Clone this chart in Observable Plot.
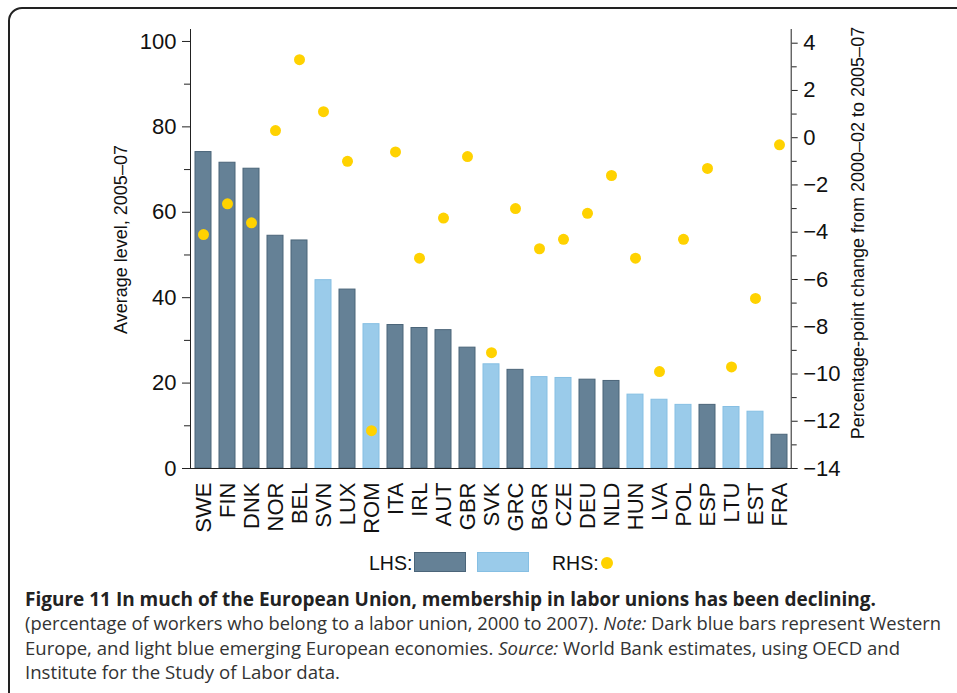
<!DOCTYPE html>
<html><head><meta charset="utf-8">
<script src="https://cdn.jsdelivr.net/npm/d3@7"></script>
<script src="https://cdn.jsdelivr.net/npm/@observablehq/plot@0.6"></script>
<style>
html,body{margin:0;padding:0;background:#fff;width:957px;height:693px;overflow:hidden;position:relative;}
#frame{position:absolute;left:7.5px;top:6.5px;width:1000px;height:800px;border:2px solid #222;border-radius:14px;box-sizing:border-box;}
#chart{position:absolute;left:0;top:0;}
.lg{position:absolute;font-family:"Liberation Sans",Arial,sans-serif;font-size:19.5px;color:#111;line-height:20px;white-space:nowrap;}
.sw{position:absolute;box-sizing:border-box;border:1px solid;}
.cap{position:absolute;left:24.5px;font-family:"Open Sans",sans-serif;font-size:19px;line-height:24.5px;white-space:nowrap;color:#333;transform-origin:0 0;display:inline-block;}
</style></head><body>
<div id="frame"></div>
<div id="chart"></div>
<div class="lg" style="left:369px;top:552.7px">LHS:</div>
<div class="sw" style="left:414px;top:552px;width:52px;height:20px;background:#658196;border-color:#4b6579"></div>
<div class="sw" style="left:477px;top:552px;width:52px;height:20px;background:#9acbea;border-color:#86bfe3"></div>
<div class="lg" style="left:552px;top:552.7px">RHS:</div>
<div style="position:absolute;left:601px;top:556.5px;width:12px;height:12px;border-radius:50%;background:#ffd200"></div>
<div class="cap" id="c1" style="top:586.5px;font-weight:bold;color:#222">Figure 11 In much of the European Union, membership in labor unions has been declining.</div>
<div class="cap" id="c2" style="top:611px">(percentage of workers who belong to a labor union, 2000 to 2007). <i>Note:</i> Dark blue bars represent Western</div>
<div class="cap" id="c3" style="top:635.5px">Europe, and light blue emerging European economies. <i>Source:</i> World Bank estimates, using OECD and</div>
<div class="cap" id="c4" style="top:660px">Institute for the Study of Labor data.</div>
<script>
const countries = ["SWE","FIN","DNK","NOR","BEL","SVN","LUX","ROM","ITA","IRL","AUT","GBR","SVK","GRC","BGR","CZE","DEU","NLD","HUN","LVA","POL","ESP","LTU","EST","FRA"];
const levels = [74.1,71.6,70.2,54.5,53.4,44.1,41.9,33.8,33.6,32.9,32.4,28.3,24.4,23.1,21.4,21.2,20.8,20.5,17.3,16.1,14.9,14.9,14.4,13.3,7.9];
const changes = [-4.1,-2.8,-3.6,0.3,3.3,1.1,-1.0,-12.4,-0.6,-5.1,-3.4,-0.8,-9.1,-3.0,-4.7,-4.3,-3.2,-1.6,-5.1,-9.9,-4.3,-1.3,-9.7,-6.8,-0.3];
const emerging = ["SVN","ROM","SVK","BGR","CZE","HUN","LVA","POL","LTU","EST"];
const leftTicks = [0,20,40,60,80,100];
const leftMinor = [10,30,50,70,90];
const rightTicks = [-14,-12,-10,-8,-6,-4,-2,0,2,4];
const rightMinor = [-13,-11,-9,-7,-5,-3,-1,1,3];
const leftTitle = "Average level, 2005\u201307";
const rightTitle = "Percentage-point change from 2000\u201302 to 2005\u201307";

const K = 5.533;
const toLeft = r => (r + 14) * K;
const toRight = v => v / K - 14;
const fmt = d => d < 0 ? "\u2212" + Math.abs(d) : String(d);

const data = countries.map((c, i) => ({country: c, level: levels[i], change: changes[i], emerging: emerging.includes(c)}));

const chart = Plot.plot({
  width: 957, height: 545,
  marginLeft: 190, marginRight: 166.3, marginTop: 29, marginBottom: 77,
  style: {fontFamily: "'Liberation Sans', Arial, sans-serif", fontSize: "22px", color: "#111", background: "transparent"},
  x: {domain: countries, paddingInner: 0.35, paddingOuter: 0.175, label: null},
  y: {domain: [0, 102.8], label: null},
  marks: [
    Plot.barY(data, {filter: d => !d.emerging, x: "country", y: "level", fill: "#658196", stroke: "#4b6579", strokeWidth: 1}),
    Plot.barY(data, {filter: d => d.emerging, x: "country", y: "level", fill: "#9acbea", stroke: "#86bfe3", strokeWidth: 1}),
    Plot.dot(data, {x: "country", y: d => toLeft(d.change), r: 5.5, fill: "#ffd200"}),
    Plot.frame({anchor: "left", stroke: "#222"}),
    Plot.frame({anchor: "right", stroke: "#222"}),
    Plot.frame({anchor: "bottom", stroke: "#222"}),
    Plot.axisY(leftTicks, {anchor: "left", tickSize: 8, tickPadding: 6, label: null, stroke: "#222"}),
    Plot.axisY(leftMinor, {anchor: "left", tickSize: 6, tickFormat: () => "", label: null, stroke: "#222"}),
    Plot.axisY(rightTicks.map(toLeft), {anchor: "right", tickSize: 6, tickPadding: 6, tickFormat: v => fmt(Math.round(toRight(v))), label: null, stroke: "#222"}),
    Plot.axisY(rightMinor.map(toLeft), {anchor: "right", tickSize: 5, tickFormat: () => "", label: null, stroke: "#222"}),
    Plot.axisX({tickRotate: -90, tickSize: 0, tickPadding: 14, label: null}),
    Plot.text([leftTitle], {frameAnchor: "left", rotate: -90, dx: -69, dy: -9.5, fontSize: 18, textAnchor: "middle", lineAnchor: "middle", fill: "#111"}),
    Plot.text([rightTitle], {frameAnchor: "right", rotate: -90, dx: 67.3, dy: -16, fontSize: 18, textAnchor: "middle", lineAnchor: "middle", fill: "#111"})
  ]
});
document.getElementById("chart").appendChild(chart);

const targets = {c1: 851, c2: 916, c3: 875, c4: 315};
function fit() {
  for (const id in targets) {
    const el = document.getElementById(id);
    el.style.transform = "none";
    const w = el.getBoundingClientRect().width;
    el.style.transform = `scaleX(${targets[id] / w})`;
  }
}
fit();
if (document.fonts && document.fonts.ready) document.fonts.ready.then(fit);
</script>
</body></html>
